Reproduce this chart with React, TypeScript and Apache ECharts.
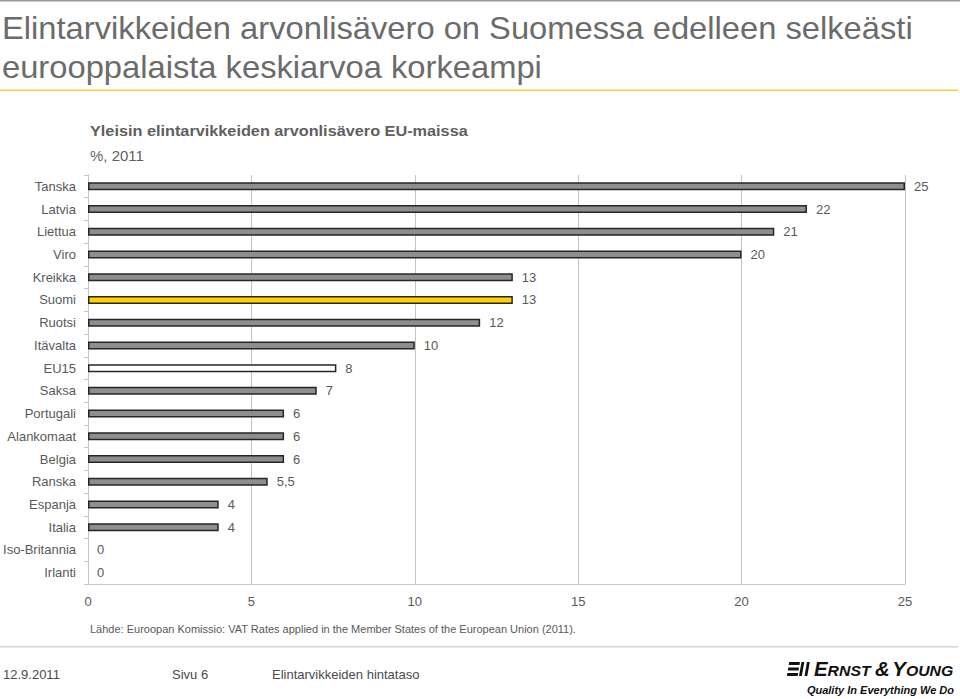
import React, { useEffect, useRef } from "react";
import * as echarts from "echarts";

const titleLines = [
  "Elintarvikkeiden arvonlisävero on Suomessa edelleen selkeästi",
  "eurooppalaista keskiarvoa korkeampi",
];
const subtitle = "Yleisin elintarvikkeiden arvonlisävero EU-maissa";
const unitText = "%, 2011";
const sourceText =
  "Lähde: Euroopan Komissio: VAT Rates applied in the Member States of the European Union (2011).";
const footerTexts = ["12.9.2011", "Sivu 6", "Elintarvikkeiden hintataso"];

const categories = [
  "Tanska", "Latvia", "Liettua", "Viro", "Kreikka", "Suomi", "Ruotsi", "Itävalta", "EU15",
  "Saksa", "Portugali", "Alankomaat", "Belgia", "Ranska", "Espanja", "Italia", "Iso-Britannia", "Irlanti",
];
const values = [25, 22, 21, 20, 13, 13, 12, 10, 7.6, 7, 6, 6, 6, 5.5, 4, 4, 0, 0];
const valueLabels = ["25", "22", "21", "20", "13", "13", "12", "10", "8", "7", "6", "6", "6", "5,5", "4", "4", "0", "0"];
const highlightCategory = "Suomi";
const averageCategory = "EU15";
const xTicks = [0, 5, 10, 15, 20, 25];

const GRAY_BAR = "#8e8e8e";
const YELLOW = "#FFD200";
const TEXT = "#595959";

export default function App() {
  const ref = useRef<HTMLDivElement>(null);
  useEffect(() => {
    if (!ref.current) return;
    const chart = echarts.init(ref.current, undefined, { renderer: "svg" });
    const data = values.map((v, i) => {
      const cat = categories[i];
      const fill = cat === highlightCategory ? YELLOW : cat === averageCategory ? "#ffffff" : GRAY_BAR;
      return {
        value: v,
        itemStyle: { color: fill, borderColor: "#262626", borderWidth: v === 0 ? 0 : 1.5 },
      };
    });
    const font = "'Liberation Sans', Arial, sans-serif";
    chart.setOption({
      animation: false,
      textStyle: { fontFamily: font },
      grid: { left: 88, right: 55, top: 175, bottom: 115, containLabel: false },
      xAxis: {
        type: "value",
        min: xTicks[0],
        max: xTicks[xTicks.length - 1],
        interval: 5,
        axisLine: { show: true, lineStyle: { color: "#c4c4c4", width: 1 } },
        axisTick: { show: false },
        splitLine: { show: true, lineStyle: { color: "#c4c4c4", width: 1 } },
        axisLabel: { color: TEXT, fontSize: 13, margin: 11, fontFamily: font },
      },
      yAxis: {
        type: "category",
        data: categories,
        inverse: true,
        axisLine: { show: true, lineStyle: { color: "#c4c4c4", width: 1 } },
        axisTick: { show: true, length: 4, lineStyle: { color: "#c4c4c4" } },
        axisLabel: { color: TEXT, fontSize: 13, margin: 12, fontFamily: font },
      },
      series: [
        {
          type: "bar",
          data,
          barWidth: 8,
          label: {
            show: true,
            position: "right",
            distance: 9,
            color: TEXT,
            fontSize: 13,
            fontFamily: font,
            formatter: (p: any) => valueLabels[p.dataIndex],
          },
        },
      ],
      graphic: [
        { type: "rect", shape: { x: 0, y: 0, width: 960, height: 1.5 }, style: { fill: "#9a9a9a" } },
        {
          type: "text", x: 2, y: 28, scaleX: 1.055,
          style: { text: titleLines[0], fill: "#6b6b6b", fontSize: 31, fontFamily: font, verticalAlign: "middle" },
        },
        {
          type: "text", x: 2, y: 67, scaleX: 1.055,
          style: { text: titleLines[1], fill: "#6b6b6b", fontSize: 31, fontFamily: font, verticalAlign: "middle" },
        },
        { type: "rect", shape: { x: 0, y: 89.5, width: 958, height: 1.5 }, style: { fill: "#f2d23a" } },
        {
          type: "text", x: 90, y: 131, scaleX: 1.05,
          style: { text: subtitle, fill: "#5f5f5f", fontSize: 15.5, fontWeight: "bold", fontFamily: font, verticalAlign: "middle" },
        },
        {
          type: "text", x: 90, y: 155,
          style: { text: unitText, fill: "#5f5f5f", fontSize: 15, fontFamily: font, verticalAlign: "middle" },
        },
        {
          type: "text", x: 90, y: 629,
          style: { text: sourceText, fill: TEXT, fontSize: 11, fontFamily: font, verticalAlign: "middle" },
        },
        { type: "rect", shape: { x: 0, y: 646, width: 958, height: 1.5 }, style: { fill: "#d4d4d4" } },
        {
          type: "text", x: 3, y: 674,
          style: { text: footerTexts[0], fill: "#4a4a4a", fontSize: 13, fontFamily: font, verticalAlign: "middle" },
        },
        {
          type: "text", x: 172, y: 674,
          style: { text: footerTexts[1], fill: "#4a4a4a", fontSize: 13, fontFamily: font, verticalAlign: "middle" },
        },
        {
          type: "text", x: 272, y: 674,
          style: { text: footerTexts[2], fill: "#4a4a4a", fontSize: 13, fontFamily: font, verticalAlign: "middle" },
        },
        // Logo icon
        {
          type: "group",
          x: 787, y: 662,
          children: [
            { type: "polygon", shape: { points: [[2.2, 0], [13, 0], [12.5, 3], [1.7, 3]] }, style: { fill: "#111" } },
            { type: "polygon", shape: { points: [[1.3, 5.5], [12, 5.5], [11.5, 8.5], [0.8, 8.5]] }, style: { fill: "#111" } },
            { type: "polygon", shape: { points: [[0.4, 11], [11.2, 11], [10.7, 14], [-0.1, 14]] }, style: { fill: "#111" } },
            { type: "polygon", shape: { points: [[14.5, 0], [17.3, 0], [14.8, 14], [12, 14]] }, style: { fill: "#111" } },
            { type: "polygon", shape: { points: [[20, 0], [22.8, 0], [20.3, 14], [17.5, 14]] }, style: { fill: "#111" } },
          ],
        },
        {
          type: "text", x: 814, y: 669, scaleX: 1.02,
          style: {
            text: "{b|E}{s|RNST }{b|&}{t| }{b|Y}{s|OUNG}",
            fontFamily: font,
            verticalAlign: "middle",
            rich: {
              b: { fontSize: 20, fontStyle: "italic", fontWeight: "bold", fill: "#111", fontFamily: font, verticalAlign: "bottom" },
              s: { fontSize: 15.5, fontStyle: "italic", fontWeight: "bold", fill: "#111", fontFamily: font, verticalAlign: "bottom" },
              t: { fontSize: 9, fill: "#111", fontFamily: font, verticalAlign: "bottom" },
            },
          },
        },
        {
          type: "text", x: 954, y: 690,
          style: {
            text: "Quality In Everything We Do",
            fill: "#111", fontSize: 11, fontStyle: "italic", fontWeight: "bold", fontFamily: font,
            align: "right", verticalAlign: "middle",
          },
        },
      ],
    });
    return () => chart.dispose();
  }, []);
  return (
    <div
      ref={ref}
      style={{ position: "fixed", left: 0, top: 0, width: 960, height: 699, background: "#ffffff" }}
    />
  );
}
